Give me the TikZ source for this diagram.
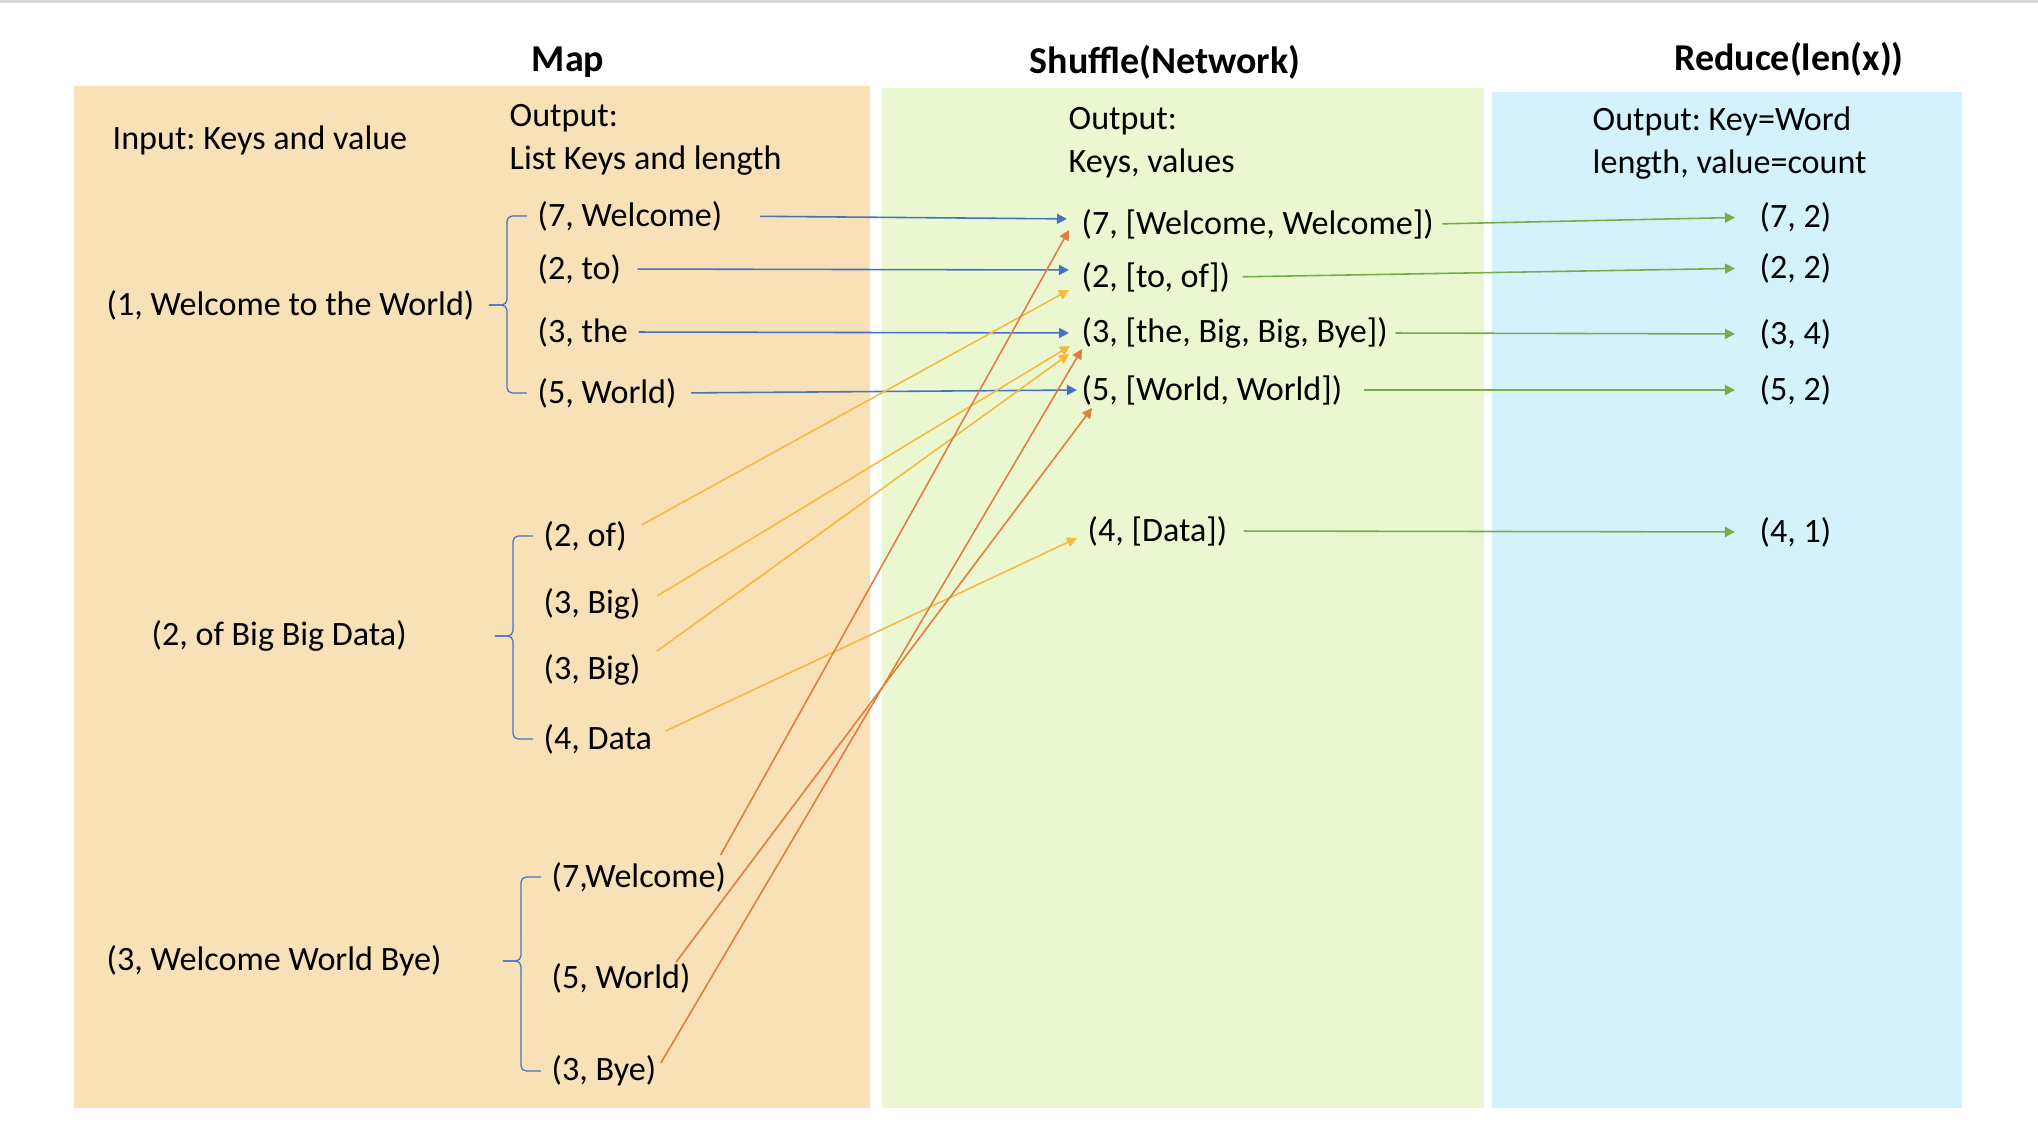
\documentclass[tikz,border=0pt]{standalone}
\usepackage{fontspec}
\setmainfont{Carlito}
\frenchspacing
\usetikzlibrary{arrows.meta, positioning}
\definecolor{mapbg}{RGB}{248,224,183}
\definecolor{shufbg}{RGB}{235,247,209}
\definecolor{redbg}{RGB}{211,242,251}
\definecolor{arrblue}{RGB}{68,114,196}
\definecolor{arrgold}{RGB}{245,185,60}
\definecolor{arrorange}{RGB}{225,125,62}
\definecolor{arrgreen}{RGB}{117,172,76}
\tikzstyle{lbl}=[anchor=west, inner sep=0pt, font=\fontsize{9.7}{12.2}\selectfont, align=left]
\tikzstyle{ttl}=[inner sep=0pt, font=\fontsize{10.8}{13}\selectfont\bfseries]
\tikzstyle{flow}=[line width=0.45pt, -{Triangle[length=1mm, width=1mm]}]
\tikzstyle{brc}=[draw=arrblue, line width=0.35pt, rounded corners=1.5pt]
% brace from parent to first and last child
\newcommand{\grpbrace}[3]{%
  \path ([xshift=-0.3cm]#1.west) coordinate (bt);
  \path (bt |- #3.east) coordinate (bm);
  \draw[brc] ([xshift=-0.1cm]#1.west) -- (bt) -- (bm) -- ([xshift=-0.18cm]bm);
  \draw[brc] ([xshift=-0.18cm]bm) -- (bm) -- (bt |- #2.west) -- ([xshift=-0.1cm]#2.west);}

\begin{document}
\begin{tikzpicture}[x=0.01cm, y=-0.01cm]
  \useasboundingbox (0,0) rectangle (2038,1148);
  \fill[black!15] (0,0) rectangle (2038,3);
  % panels
  \fill[mapbg] (74,86) rectangle (870,1108);
  \fill[shufbg] (882,88) rectangle (1484,1108);
  \fill[redbg] (1492,92) rectangle (1962,1108);

  \node[ttl] (tmap) at (568,62) {Map};
  \node[ttl] (tshuf) at (1165,62) {Shuffle(Network)};
  \node[ttl] (tred) at (1789,59) {Reduce(len(x))};

  % map
  \node[lbl] (inmap) at (112,140) {Input: Keys and value};
  \node[lbl] (outmap) at (509,140) {Output:\\List Keys and length};
  \node[lbl] (p1) at (106,305) {(1, Welcome to the World)};
  \node[lbl] (m7) at (537,216) {(7, Welcome)};
  \node[lbl] (m2) at (537,269) {(2, to)};
  \node[lbl] (m3) at (537,332) {(3, the};
  \node[lbl] (m5) at (537,393) {(5, World)};
  \node[lbl] (p2) at (151,636) {(2, of Big Big Data)};
  \node[lbl] (m2of) at (543,536) {(2, of)};
  \node[lbl] (m3b1) at (543,604) {(3, Big)};
  \node[lbl] (m3b2) at (543,670) {(3, Big)};
  \node[lbl] (m4d) at (543,739) {(4, Data};
  \node[lbl] (p3) at (106,961) {(3, Welcome World Bye)};
  \node[lbl] (m7w) at (551,877) {(7,Welcome)};
  \node[lbl] (m5w) at (551,978) {(5, World)};
  \node[lbl] (m3bye) at (551,1071) {(3, Bye)};
  \grpbrace{m7}{m5}{p1}
  \grpbrace{m2of}{m4d}{p2}
  \grpbrace{m7w}{m3bye}{p3}

  % shuffle
  \node[lbl] (outshuf) at (1068,143) {Output:\\Keys, values};
  \node[lbl] (s7) at (1081,224) {(7, [Welcome, Welcome])};
  \node[lbl] (s2) at (1081,277) {(2, [to, of])};
  \node[lbl] (s3) at (1081,333) {(3, [the, Big, Big, Bye])};
  \node[lbl] (s5) at (1081,390) {(5, [World, World])};
  \node[lbl] (s4) at (1087,531) {(4, [Data])};

  % reduce
  \node[lbl] (outred) at (1592,143) {Output: Key=Word\\length, value=count};
  \node[lbl] (r7) at (1759,217) {(7, 2)};
  \node[lbl] (r2) at (1759,268) {(2, 2)};
  \node[lbl] (r3) at (1759,334) {(3, 4)};
  \node[lbl] (r5) at (1759,390) {(5, 2)};
  \node[lbl] (r4) at (1759,532) {(4, 1)};

  % first line
  \draw[flow, arrblue, shorten <=0.37cm, shorten >=0.14cm] (m7.east) -- ([yshift=0.05cm]s7.west);
  \draw[flow, arrblue, shorten <=0.16cm, shorten >=0.12cm] (m2.east) -- ([yshift=0.07cm]s2.west);
  \draw[flow, arrblue, shorten <=0.1cm, shorten >=0.12cm] (m3.east) -- (s3.west);
  \draw[flow, arrblue, shorten <=0.14cm, shorten >=0.04cm] (m5.east) -- (s5.west);
  % second line
  \draw[flow, arrgold] ([shift={(0.14cm,0.11cm)}]m2of.east) -- ([shift={(-0.12cm,-0.13cm)}]s2.west);
  \draw[flow, arrgold] ([shift={(0.16cm,0.08cm)}]m3b1.east) -- ([shift={(-0.11cm,-0.13cm)}]s3.west);
  \draw[flow, arrgold] ([shift={(0.16cm,0.19cm)}]m3b2.east) -- ([shift={(-0.12cm,-0.21cm)}]s3.west);
  \draw[flow, arrgold] ([shift={(0.13cm,0.08cm)}]m4d.east) -- ([shift={(-0.1cm,-0.07cm)}]s4.west);
  % third line
  \draw[flow, arrorange] ([shift={(-0.06cm,0.22cm)}]m7w.east) -- ([shift={(-0.12cm,-0.06cm)}]s7.west);
  \draw[flow, arrorange] ([shift={(-0.15cm,0.16cm)}]m5w.east) -- ([shift={(0.11cm,-0.18cm)}]s5.west);
  \draw[flow, arrorange] ([shift={(0.04cm,0.08cm)}]m3bye.east) -- ([shift={(0.01cm,-0.16cm)}]s3.west);

  % shuffle to reduce
  \draw[flow, arrgreen, shorten <=0.08cm, shorten >=0.24cm] (s7.east) -- (r7.west);
  \draw[flow, arrgreen, shorten <=0.12cm, shorten >=0.24cm] (s2.east) -- (r2.west);
  \draw[flow, arrgreen, shorten <=0.07cm, shorten >=0.24cm] (s3.east) -- (r3.west);
  \draw[flow, arrgreen, shorten <=0.21cm, shorten >=0.24cm] (s5.east) -- (r5.west);
  \draw[flow, arrgreen, shorten <=0.16cm, shorten >=0.24cm] (s4.east) -- (r4.west);
\end{tikzpicture}
\end{document}
